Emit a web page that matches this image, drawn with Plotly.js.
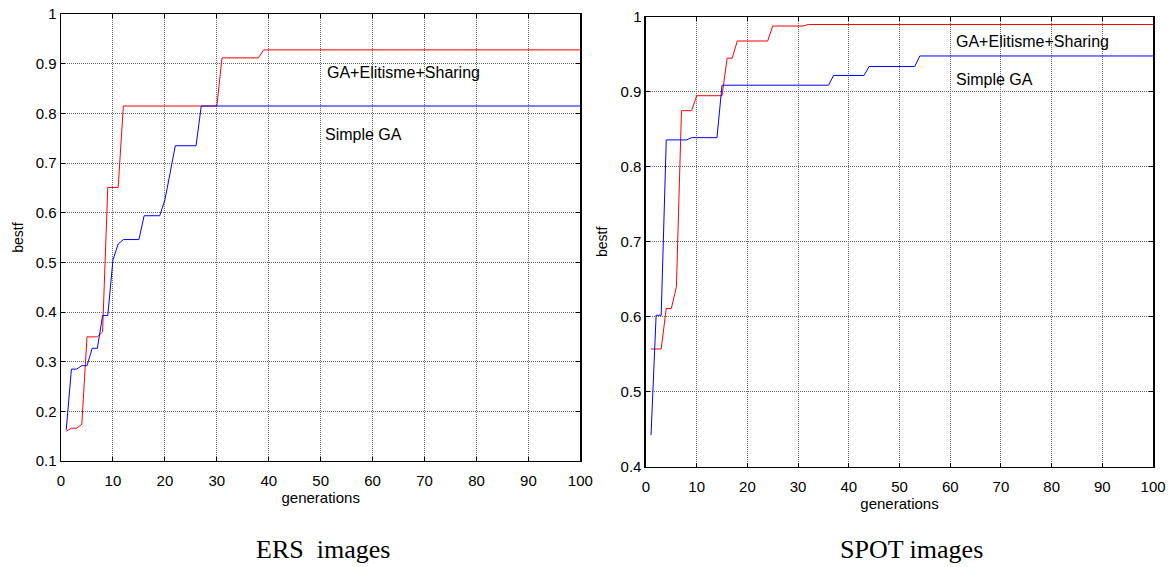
<!DOCTYPE html>
<html>
<head>
<meta charset="utf-8">
<script src="https://cdn.plot.ly/plotly-3.0.1.min.js"></script>
<style>html,body{margin:0;padding:0;background:#fff;}#chart{width:1176px;height:567px;}</style>
</head>
<body>
<div id="chart"></div>
<script>
// ERS images (left panel)
const ersSharingGen = [1,2,3,4,5,7,8,9,11,12,30,31,38,39,100];
const ersSharingVal = [0.160,0.166,0.166,0.174,0.350,0.350,0.360,0.651,0.651,0.815,0.815,0.912,0.912,0.928,0.928];
const ersSimpleGen = [1,2,3,4,5,6,7,8,9,10,11,12,15,16,19,20,21,22,26,27,100];
const ersSimpleVal = [0.163,0.285,0.285,0.292,0.292,0.327,0.327,0.393,0.393,0.505,0.537,0.546,0.546,0.594,0.594,0.626,0.680,0.735,0.735,0.815,0.815];

// SPOT images (right panel)
const spotSharingGen = [1,3,4,5,6,7,9,10,15,16,17,18,24,25,31,32,100];
const spotSharingVal = [0.557,0.557,0.611,0.611,0.640,0.875,0.875,0.895,0.895,0.945,0.945,0.968,0.968,0.988,0.988,0.990,0.990];
const spotSimpleGen = [1,2,3,4,8,9,14,15,36,37,43,44,53,54,100];
const spotSimpleVal = [0.442,0.602,0.602,0.836,0.836,0.839,0.839,0.909,0.909,0.922,0.922,0.934,0.934,0.948,0.948];

const seriesNames = ["GA+Elitisme+Sharing", "Simple GA"];
const panelCaptions = ["ERS\u00a0 images", "SPOT images"];
const xTitle = "generations";
const yTitle = "bestf";

const sans = "Liberation Sans, Arial, Helvetica, sans-serif";
const serif = "Liberation Serif, Times New Roman, serif";

const traces = [
  {x: ersSharingGen, y: ersSharingVal, xaxis: 'x', yaxis: 'y', mode: 'lines', name: seriesNames[0], line: {color: '#ff0000', width: 1}},
  {x: ersSimpleGen, y: ersSimpleVal, xaxis: 'x', yaxis: 'y', mode: 'lines', name: seriesNames[1], line: {color: '#0000ff', width: 1}},
  {x: spotSharingGen, y: spotSharingVal, xaxis: 'x2', yaxis: 'y2', mode: 'lines', name: seriesNames[0], line: {color: '#ff0000', width: 1}},
  {x: spotSimpleGen, y: spotSimpleVal, xaxis: 'x2', yaxis: 'y2', mode: 'lines', name: seriesNames[1], line: {color: '#0000ff', width: 1}}
];

function xax(domain, anchor) {
  return {
    domain: domain, anchor: anchor, range: [0, 100], dtick: 10, tick0: 0,
    showline: true, linecolor: '#000', linewidth: 1.5, mirror: 'ticks',
    ticks: 'inside', ticklen: 4, tickcolor: '#000', tickwidth: 1,
    showgrid: true, gridcolor: '#666', griddash: '1px,1px', gridwidth: 1,
    zeroline: false, automargin: false, ticklabelstandoff: 6,
    tickfont: {family: sans, size: 15, color: '#000'},
    title: {text: xTitle, font: {family: sans, size: 15, color: '#000'}, standoff: 3}
  };
}
function yax(domain, anchor, range) {
  return {
    domain: domain, anchor: anchor, range: range, dtick: 0.1, tick0: 0,
    showline: true, linecolor: '#000', linewidth: 1.5, mirror: 'ticks',
    ticks: 'inside', ticklen: 4, tickcolor: '#000', tickwidth: 1,
    showgrid: true, gridcolor: '#666', griddash: '1px,1px', gridwidth: 1,
    zeroline: false, automargin: false,
    tickfont: {family: sans, size: 15, color: '#000'},
    title: {text: yTitle, font: {family: sans, size: 14, color: '#000'}, standoff: 9}
  };
}

const annFont = {family: sans, size: 16, color: '#000'};
const layout = {
  width: 1176, height: 567,
  margin: {l: 0, r: 0, t: 0, b: 0},
  paper_bgcolor: '#fff', plot_bgcolor: '#fff',
  showlegend: false,
  xaxis: xax([0.0519, 0.4935], 'y'),
  yaxis: yax([0.187, 0.975], 'x', [0.1, 1]),
  xaxis2: xax([0.5493, 0.9805], 'y2'),
  yaxis2: yax([0.177, 0.970], 'x2', [0.4, 1]),
  annotations: [
    {xref: 'x', yref: 'y', x: 50.9, y: 0.882, text: seriesNames[0], showarrow: false, xanchor: 'left', yanchor: 'middle', font: annFont},
    {xref: 'x', yref: 'y', x: 50.5, y: 0.757, text: seriesNames[1], showarrow: false, xanchor: 'left', yanchor: 'middle', font: annFont},
    {xref: 'x2', yref: 'y2', x: 60.8, y: 0.967, text: seriesNames[0], showarrow: false, xanchor: 'left', yanchor: 'middle', font: annFont},
    {xref: 'x2', yref: 'y2', x: 60.8, y: 0.917, text: seriesNames[1], showarrow: false, xanchor: 'left', yanchor: 'middle', font: annFont},
    {xref: 'paper', yref: 'paper', x: 0.2747, y: 0.0317, text: panelCaptions[0], showarrow: false, xanchor: 'center', yanchor: 'middle', font: {family: serif, size: 26, color: '#000'}},
    {xref: 'paper', yref: 'paper', x: 0.7755, y: 0.0317, text: panelCaptions[1], showarrow: false, xanchor: 'center', yanchor: 'middle', font: {family: serif, size: 26, color: '#000'}}
  ]
};

Plotly.newPlot('chart', traces, layout, {staticPlot: true, displayModeBar: false});
</script>
</body>
</html>
